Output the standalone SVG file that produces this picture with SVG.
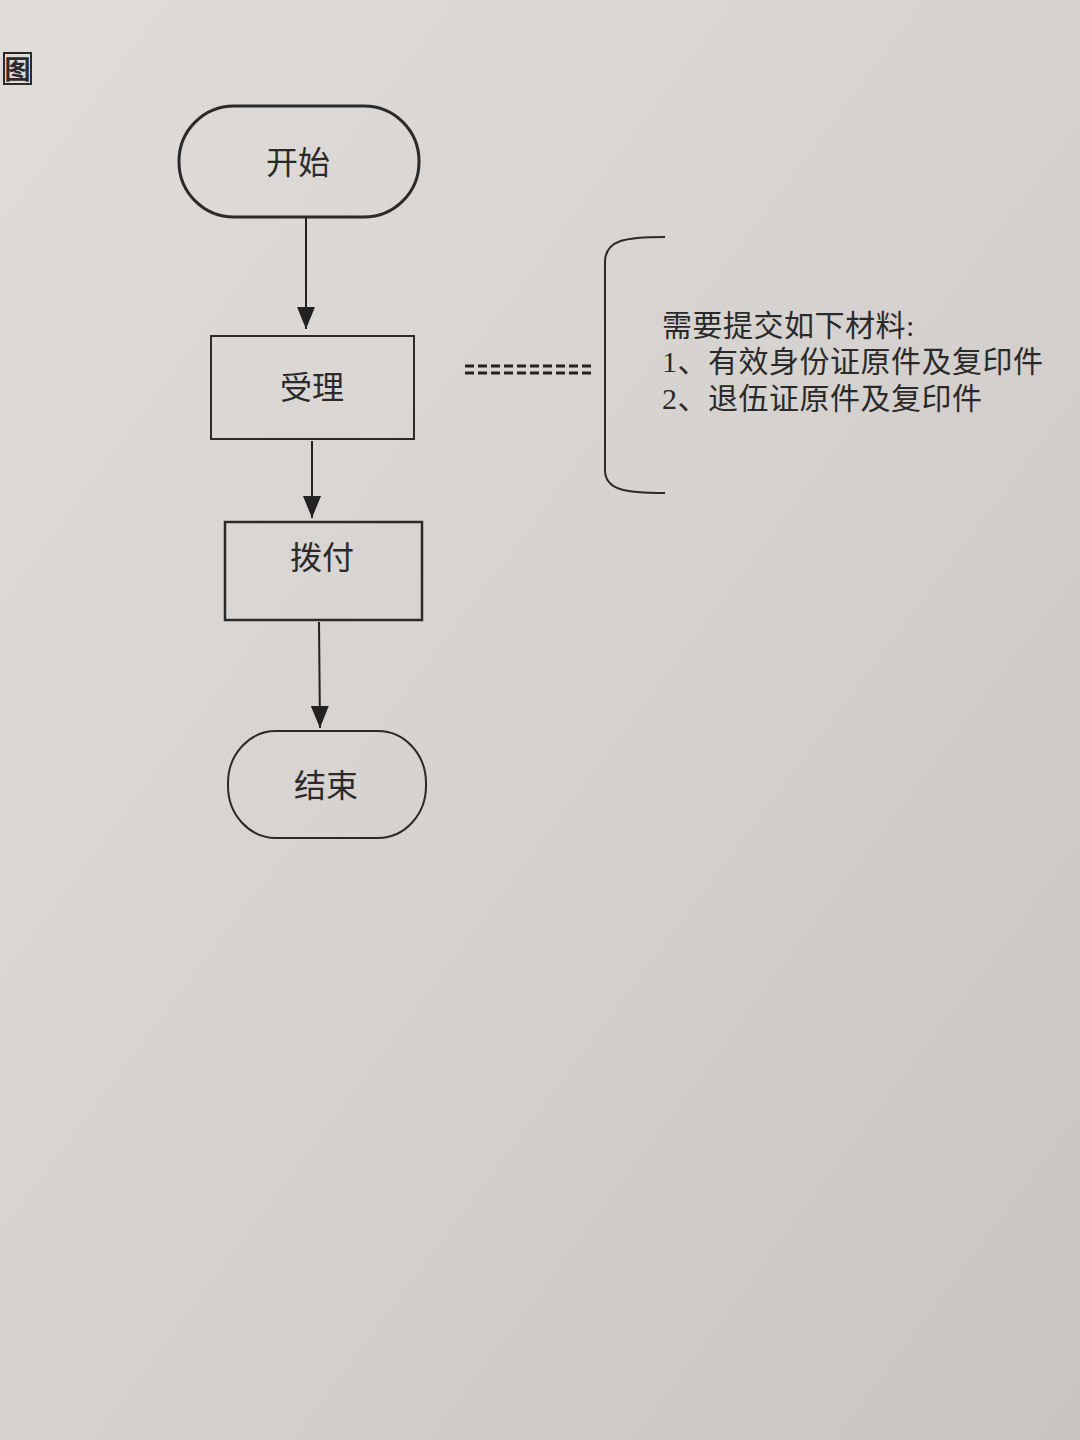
<svg xmlns="http://www.w3.org/2000/svg" width="1080" height="1440" viewBox="0 0 1080 1440">
  <defs>
    <linearGradient id="paper" x1="0" y1="0" x2="1" y2="1">
      <stop offset="0" stop-color="#e0dcd9"/>
      <stop offset="0.5" stop-color="#d6d2cf"/>
      <stop offset="1" stop-color="#c9c4c1"/>
    </linearGradient>
    <marker id="arrow" viewBox="0 0 22 18" refX="22" refY="9" markerWidth="22" markerHeight="18" markerUnits="userSpaceOnUse" orient="auto">
      <path d="M0,0 L22,9 L0,18 Z" fill="#222"/>
    </marker>
    <style>
      .shape { fill: none; stroke: #2a2a2a; }
      .lbl { font-family: "Liberation Serif", "Noto Sans CJK SC", serif; fill: #2a2a2a; }
      .node { font-size: 32px; text-anchor: middle; }
      .note { font-size: 30px; letter-spacing: 0.5px; }
      .conn { stroke: #222; stroke-width: 2; fill: none; }
      .dash { stroke: #222; stroke-width: 3; stroke-dasharray: 9,4; }
    </style>
  </defs>
  <rect x="0" y="0" width="1080" height="1440" fill="url(#paper)"/>

  <g id="corner">
    <rect x="4" y="53" width="27" height="31" class="shape" stroke-width="2"/>
    <text x="17.5" y="79" class="lbl" font-size="26" font-weight="bold" text-anchor="middle">图</text>
  </g>

  <g id="connectors">
    <line x1="306" y1="218" x2="306" y2="329" class="conn" marker-end="url(#arrow)"/>
    <line x1="312" y1="441" x2="312" y2="518" class="conn" marker-end="url(#arrow)"/>
    <line x1="319" y1="622" x2="320" y2="728" class="conn" marker-end="url(#arrow)"/>
    <line x1="465" y1="366" x2="594" y2="366" class="dash"/>
    <line x1="465" y1="373" x2="594" y2="373" class="dash"/>
  </g>

  <g id="start">
    <rect x="179" y="106" width="240" height="111" rx="55" ry="55" class="shape" stroke-width="3"/>
    <text x="298" y="174" class="lbl node">开始</text>
  </g>

  <g id="accept">
    <rect x="211" y="336" width="203" height="103" class="shape" stroke-width="2"/>
    <text x="312" y="399" class="lbl node">受理</text>
  </g>

  <g id="pay">
    <rect x="225" y="522" width="197" height="98" class="shape" stroke-width="2.5"/>
    <text x="322" y="569" class="lbl node">拨付</text>
  </g>

  <g id="end">
    <rect x="228" y="731" width="198" height="107" rx="48" ry="52" class="shape" stroke-width="2"/>
    <text x="326" y="797" class="lbl node">结束</text>
  </g>

  <g id="materials">
    <path d="M665,237 C625,237 605,240 605,262 L605,470 C605,490 625,493 665,493" class="shape" stroke-width="2"/>
    <text class="lbl note">
      <tspan x="662" y="336">需要提交如下材料:</tspan>
      <tspan x="662" y="372">1、有效身份证原件及复印件</tspan>
      <tspan x="662" y="409">2、退伍证原件及复印件</tspan>
    </text>
  </g>
</svg>
